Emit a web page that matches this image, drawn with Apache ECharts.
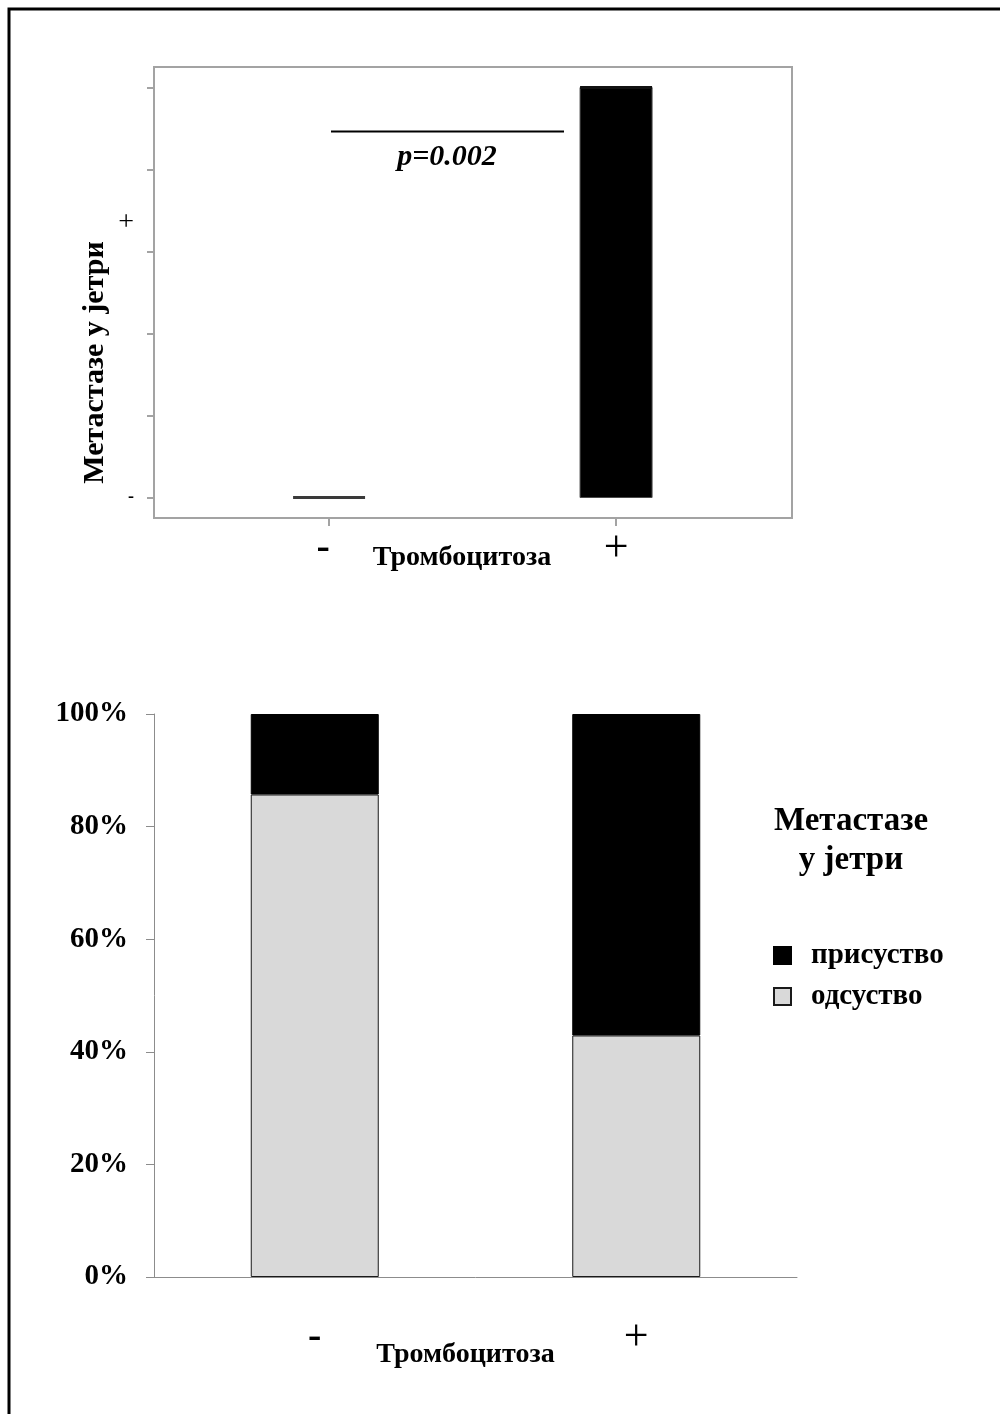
<!DOCTYPE html>
<html>
<head>
<meta charset="utf-8">
<title>Тромбоцитоза и метастазе у јетри</title>
<script src="https://cdn.jsdelivr.net/npm/echarts@6/dist/echarts.min.js"></script>
<style>
  html, body { margin: 0; padding: 0; background: #fff; }
  #chart { width: 1000px; height: 1414px; }
</style>
</head>
<body>
<div id="chart"></div>
<script>
// Groups (thrombocytosis absent / present)
const categories = ['-', '+'];
const xTitle = 'Тромбоцитоза';
const yTitleTop = 'Метастазе у јетри';

// Upper panel: box summary of liver metastases (0 = absent, 1 = present)
const boxQ1 = [0, 0];
const boxMedian = [0, 1];
const boxQ3 = [0, 1];
const topYTicks = [0, 0.2, 0.4, 0.6, 0.8, 1];
const topYLabelValues = [0, 0.67];
const topYLabels = ['-', '+'];
const pValueText = 'p=0.002';

// Lower panel: share of patients with / without liver metastases (%)
const seriesPresent = 'присуство';
const seriesAbsent = 'одсуство';
const presentPct = [14.3, 57.1];
const absentPct = [85.7, 42.9];
const legendTitle = 'Метастазе\nу јетри';

const SERIF = '"Liberation Serif", "Times New Roman", serif';
const AXIS_GREY = '#8c8c8c';
const FRAME_GREY = '#a3a3a3';
const BOX_W = 72;

const chart = echarts.init(document.getElementById('chart'), null, { renderer: 'canvas' });

const boxData = categories.map((c, i) => [i, boxQ1[i], boxMedian[i], boxQ3[i]]);

function catLabel(v) {
  const t = categories[Math.round(v)];
  return t === '-' ? '{m|-}' : '{p|+}';
}

const catRich = {
  m: { fontFamily: SERIF, fontSize: 40, fontWeight: 'bold', color: '#000', lineHeight: 40, padding: [0, 12, 0, 0] },
  p: { fontFamily: SERIF, fontSize: 44, fontWeight: 'normal', color: '#000', lineHeight: 40 }
};

chart.setOption({
  animation: false,
  backgroundColor: '#fff',
  title: {
    text: legendTitle,
    left: 851,
    top: 802,
    padding: 0,
    textAlign: 'center',
    textStyle: { fontFamily: SERIF, fontSize: 33, fontWeight: 'bold', color: '#000', lineHeight: 39 }
  },
  legend: {
    data: [seriesPresent, seriesAbsent],
    orient: 'vertical',
    left: 773,
    top: 941,
    padding: 0,
    itemWidth: 17,
    itemHeight: 17,
    itemGap: 12,
    icon: 'rect',
    textStyle: { fontFamily: SERIF, fontSize: 29, fontWeight: 'bold', color: '#000', padding: [0, 0, 0, 15] }
  },
  grid: [
    { left: 154, top: 67, width: 638, height: 451, show: true, borderColor: FRAME_GREY, borderWidth: 2, backgroundColor: '#fff' },
    { left: 154, top: 714, width: 643, height: 563 }
  ],
  xAxis: [
    {
      type: 'value', gridIndex: 0, min: -0.61, max: 1.613,
      axisLine: { show: false, onZero: false },
      splitLine: { show: false },
      axisTick: { show: true, customValues: [0, 1], length: 8, lineStyle: { color: FRAME_GREY, width: 2 } },
      axisLabel: { customValues: [0, 1], formatter: catLabel, margin: 11, rich: catRich },
      name: xTitle, nameLocation: 'middle', nameGap: 26, nameMoveOverlap: false,
      nameTextStyle: { fontFamily: SERIF, fontSize: 28, fontWeight: 'bold', color: '#000', padding: [0, 22, 0, 0] }
    },
    {
      type: 'category', gridIndex: 1, data: categories,
      axisLine: { lineStyle: { color: AXIS_GREY, width: 1 } },
      axisTick: { length: 14, lineStyle: { color: AXIS_GREY } },
      axisLabel: { formatter: (v) => (v === '-' ? '{m|-}' : '{p|+}'), margin: 41, rich: {
        m: { fontFamily: SERIF, fontSize: 40, fontWeight: 'bold', color: '#000', lineHeight: 40 },
        p: { fontFamily: SERIF, fontSize: 44, fontWeight: 'normal', color: '#000', lineHeight: 40 }
      } },
      name: xTitle, nameLocation: 'middle', nameGap: 64, nameMoveOverlap: false,
      nameTextStyle: { fontFamily: SERIF, fontSize: 28, fontWeight: 'bold', color: '#000', padding: [0, 20, 0, 0] }
    }
  ],
  yAxis: [
    {
      type: 'value', gridIndex: 0, min: -0.05, max: 1.05,
      axisLine: { show: false, onZero: false },
      splitLine: { show: false },
      axisTick: { show: true, customValues: topYTicks, length: 7, lineStyle: { color: FRAME_GREY, width: 2 } },
      axisLabel: {
        customValues: topYLabelValues, margin: 20,
        formatter: (v) => (Math.abs(v) < 1e-9 ? '{m|' + topYLabels[0] + '}' : '{p|' + topYLabels[1] + '}'),
        rich: {
          m: { fontFamily: SERIF, fontSize: 18, fontWeight: 'bold', color: '#000' },
          p: { fontFamily: SERIF, fontSize: 28, fontWeight: 'normal', color: '#000' }
        }
      },
      name: yTitleTop, nameLocation: 'middle', nameGap: 44, nameRotate: 90, nameMoveOverlap: false,
      nameTextStyle: { fontFamily: SERIF, fontSize: 30, fontWeight: 'bold', color: '#000', padding: [0, 140, 0, 0] }
    },
    {
      type: 'value', gridIndex: 1, min: 0, max: 100, interval: 20,
      axisLine: { show: true, lineStyle: { color: AXIS_GREY, width: 1 } },
      axisTick: { show: true, length: 8, lineStyle: { color: AXIS_GREY } },
      splitLine: { show: false },
      axisLabel: { formatter: '{value}%', margin: 26, fontFamily: SERIF, fontSize: 29, fontWeight: 'bold', color: '#000' }
    }
  ],
  series: [
    {
      type: 'custom',
      name: 'box',
      xAxisIndex: 0, yAxisIndex: 0,
      data: boxData,
      encode: { x: 0, y: [1, 2, 3] },
      renderItem: function (params, api) {
        const x = api.value(0);
        const low = api.coord([x, api.value(1)]);
        const mid = api.coord([x, api.value(2)]);
        const high = api.coord([x, api.value(3)]);
        const children = [];
        const h = low[1] - high[1];
        if (h > 0.5) {
          children.push({
            type: 'rect',
            shape: { x: low[0] - BOX_W / 2, y: high[1], width: BOX_W, height: h },
            style: { fill: '#000', stroke: '#4a4a4a', lineWidth: 1 }
          });
        }
        children.push({
          type: 'line',
          shape: { x1: mid[0] - BOX_W / 2, y1: mid[1], x2: mid[0] + BOX_W / 2, y2: mid[1] },
          style: { stroke: h > 0.5 ? '#111' : '#3a3a3a', lineWidth: 3 }
        });
        return { type: 'group', children: children };
      }
    },
    {
      type: 'bar', name: seriesAbsent, stack: 'share',
      xAxisIndex: 1, yAxisIndex: 1,
      data: absentPct, barWidth: 128,
      itemStyle: { color: '#d9d9d9', borderColor: '#1a1a1a', borderWidth: 1 }
    },
    {
      type: 'bar', name: seriesPresent, stack: 'share',
      xAxisIndex: 1, yAxisIndex: 1,
      data: presentPct, barWidth: 128,
      itemStyle: { color: '#000', borderColor: '#000', borderWidth: 1 }
    }
  ],
  graphic: [
    {
      type: 'rect', silent: true,
      shape: { x: 9, y: 9, width: 1200, height: 1600 },
      style: { fill: 'none', stroke: '#000', lineWidth: 3 }
    },
    {
      type: 'line', silent: true,
      shape: { x1: 331, y1: 131.5, x2: 564, y2: 131.5 },
      style: { stroke: '#000', lineWidth: 2 }
    },
    {
      type: 'text', silent: true,
      x: 447, y: 172,
      style: {
        text: pValueText, fill: '#000', align: 'center', verticalAlign: 'bottom',
        font: 'italic bold 30px "Liberation Serif", "Times New Roman", serif'
      }
    }
  ]
});
</script>
</body>
</html>
